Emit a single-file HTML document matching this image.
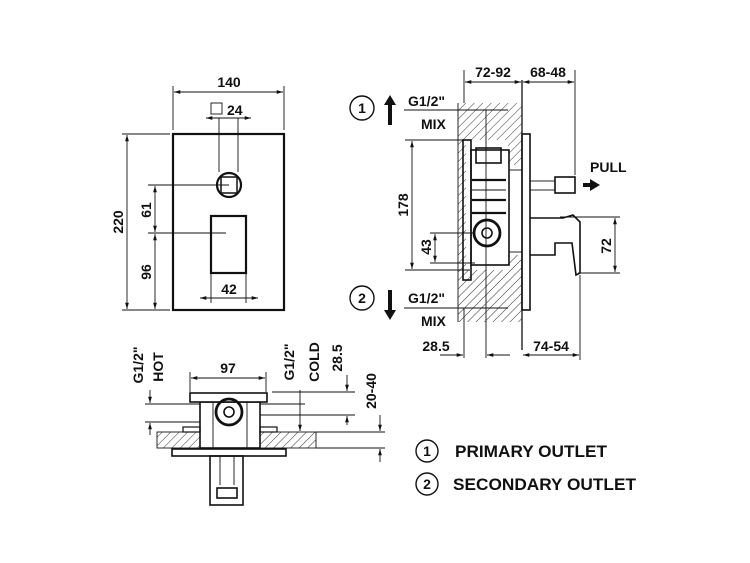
<!DOCTYPE html>
<html><head><meta charset="utf-8"><style>
html,body{margin:0;padding:0;background:#fff;}
svg{display:block;}
text{font-family:"Liberation Sans",Arial,sans-serif;font-weight:bold;fill:#111;}
</style></head><body>
<svg width="750" height="563" viewBox="0 0 750 563" xmlns="http://www.w3.org/2000/svg">
<defs>
<pattern id="h" patternUnits="userSpaceOnUse" width="6" height="6" patternTransform="rotate(45)">
<rect width="6" height="6" fill="#fff"/><line x1="0" y1="0" x2="0" y2="6" stroke="#333" stroke-width="1"/>
</pattern>
<marker id="a" viewBox="0 0 10 10" refX="10" refY="5" markerWidth="7" markerHeight="7" orient="auto-start-reverse">
<path d="M0,2 L10,5 L0,8 z" fill="#111"/></marker>
</defs>
<g stroke="#111" fill="none" stroke-width="0.9">
<!-- FRONT VIEW -->
<rect x="173" y="134" width="111" height="176" stroke-width="2.2"/>
<line x1="173" y1="86" x2="173" y2="130"/><line x1="284" y1="86" x2="284" y2="130"/>
<line x1="174" y1="92" x2="283" y2="92" marker-start="url(#a)" marker-end="url(#a)"/>
<rect x="211" y="103" width="11" height="11"/>
<line x1="206" y1="118" x2="251" y2="118" marker-start="url(#a)" marker-end="url(#a)"/>
<line x1="219" y1="118" x2="219" y2="172"/><line x1="238" y1="118" x2="238" y2="172"/>
<circle cx="229" cy="185" r="12" stroke-width="2.2"/>
<rect x="221" y="177" width="16" height="16" stroke-width="1.5"/>
<rect x="211" y="216" width="35" height="57" stroke-width="2.2"/>
<line x1="200" y1="298" x2="258" y2="298" marker-start="url(#a)" marker-end="url(#a)"/>
<line x1="211" y1="273" x2="211" y2="303"/><line x1="246" y1="273" x2="246" y2="303"/>
<line x1="122" y1="134" x2="170" y2="134"/><line x1="122" y1="310" x2="170" y2="310"/>
<line x1="127" y1="135" x2="127" y2="309" marker-start="url(#a)" marker-end="url(#a)"/>
<line x1="148" y1="185" x2="229" y2="185"/><line x1="148" y1="233" x2="226" y2="233"/>
<line x1="155" y1="186" x2="155" y2="232" marker-start="url(#a)" marker-end="url(#a)"/>
<line x1="155" y1="234" x2="155" y2="309" marker-start="url(#a)" marker-end="url(#a)"/>

<!-- SIDE VIEW -->
<rect x="458" y="103" width="64" height="219" fill="url(#h)" stroke="none"/>
<rect x="466" y="140" width="42" height="130" fill="#fff" stroke="none"/>
<rect x="508" y="165" width="14" height="90" fill="#fff" stroke="none"/>
<line x1="458" y1="103" x2="458" y2="322"/>
<line x1="522" y1="80" x2="522" y2="350" stroke-width="1.3"/>
<rect x="463" y="140" width="8" height="140" stroke-width="1.6"/>
<rect x="471" y="150" width="38" height="115" stroke-width="1.6"/>
<rect x="476" y="148" width="25" height="15" stroke-width="1.6"/>
<line x1="472" y1="180" x2="506" y2="180" stroke-width="2.2"/>
<line x1="472" y1="190" x2="506" y2="190" stroke-width="1"/>
<line x1="472" y1="200" x2="506" y2="200" stroke-width="2.2"/>
<line x1="472" y1="213" x2="506" y2="213" stroke-width="2.2"/>
<line x1="509" y1="170" x2="522" y2="170"/><line x1="509" y1="252" x2="522" y2="252"/>
<line x1="509" y1="170" x2="509" y2="252"/>
<circle cx="487" cy="233" r="13" stroke-width="2.8"/>
<circle cx="487" cy="233" r="5" stroke-width="1.6"/>
<rect x="522" y="134" width="8" height="176" stroke-width="1.6"/>
<rect x="530" y="181" width="25" height="9"/>
<rect x="555" y="177" width="20" height="16" stroke-width="1.6"/>
<path d="M530 218 L563 218 L573 215 L580 222 L580 273 L576 275 L572 243 L555 243 L555 255 L530 255" stroke-width="1.6"/>
<line x1="560" y1="217" x2="620" y2="217"/><line x1="578" y1="273" x2="620" y2="273"/>
<line x1="615" y1="218" x2="615" y2="272" marker-start="url(#a)" marker-end="url(#a)"/>
<line x1="464" y1="70" x2="464" y2="103"/><line x1="575" y1="70" x2="575" y2="175"/>
<line x1="465" y1="82" x2="521" y2="82" marker-start="url(#a)" marker-end="url(#a)"/>
<line x1="523" y1="82" x2="574" y2="82" marker-start="url(#a)" marker-end="url(#a)"/>
<line x1="404" y1="110" x2="508" y2="110"/><line x1="404" y1="308" x2="508" y2="308"/>
<line x1="486" y1="110" x2="486" y2="358"/><line x1="464" y1="308" x2="464" y2="358"/>
<line x1="440" y1="355" x2="463" y2="355" marker-end="url(#a)"/>
<line x1="510" y1="355" x2="487" y2="355" marker-end="url(#a)"/>
<line x1="580" y1="275" x2="580" y2="360"/>
<line x1="523" y1="355" x2="579" y2="355" marker-start="url(#a)" marker-end="url(#a)"/>
<line x1="405" y1="140" x2="470" y2="140"/><line x1="405" y1="270" x2="470" y2="270"/>
<line x1="412" y1="141" x2="412" y2="269" marker-start="url(#a)" marker-end="url(#a)"/>
<line x1="430" y1="233" x2="475" y2="233"/><line x1="430" y1="263" x2="475" y2="263"/>
<line x1="435" y1="234" x2="435" y2="262" marker-start="url(#a)" marker-end="url(#a)"/>
<circle cx="362" cy="108" r="12" stroke-width="1.4"/>
<circle cx="362" cy="298" r="12" stroke-width="1.4"/>

<!-- BOTTOM VIEW -->
<rect x="157" y="432" width="159" height="16" fill="url(#h)"/>
<rect x="200" y="402" width="60" height="46" fill="#fff" stroke-width="1.6"/>
<line x1="213" y1="402" x2="213" y2="448"/><line x1="247" y1="402" x2="247" y2="448"/>
<rect x="190" y="393" width="77" height="9" fill="#fff" stroke-width="1.6"/>
<rect x="183" y="427" width="17" height="5" stroke-width="1.2"/><rect x="260" y="427" width="17" height="5" stroke-width="1.2"/>
<circle cx="229" cy="412" r="13" stroke-width="2.8"/><circle cx="229" cy="412" r="5" stroke-width="1.6"/>
<rect x="172" y="449" width="114" height="7" stroke-width="1.6"/>
<rect x="210" y="456" width="33" height="49" stroke-width="1.6"/>
<line x1="220" y1="456" x2="220" y2="485"/><line x1="234" y1="456" x2="234" y2="485"/>
<rect x="217" y="488" width="20" height="10" stroke-width="1.6"/>
<line x1="190" y1="372" x2="190" y2="392"/><line x1="266" y1="372" x2="266" y2="392"/>
<line x1="191" y1="378" x2="265" y2="378" marker-start="url(#a)" marker-end="url(#a)"/>
<line x1="145" y1="404" x2="200" y2="404"/><line x1="145" y1="422" x2="200" y2="422"/>
<line x1="150" y1="390" x2="150" y2="403" marker-end="url(#a)"/>
<line x1="150" y1="435" x2="150" y2="423" marker-end="url(#a)"/>
<line x1="260" y1="404" x2="305" y2="404"/><line x1="260" y1="415" x2="355" y2="415"/>
<line x1="300" y1="390" x2="300" y2="431" marker-end="url(#a)"/>
<line x1="272" y1="392" x2="355" y2="392"/>
<line x1="347" y1="375" x2="347" y2="391" marker-end="url(#a)"/>
<line x1="347" y1="425" x2="347" y2="416" marker-end="url(#a)"/>
<line x1="316" y1="432" x2="385" y2="432"/><line x1="316" y1="448" x2="385" y2="448"/>
<line x1="380" y1="415" x2="380" y2="431" marker-end="url(#a)"/>
<line x1="380" y1="462" x2="380" y2="449" marker-end="url(#a)"/>

<!-- legend -->
<circle cx="427" cy="451" r="11" stroke-width="1.4"/>
<circle cx="427" cy="484" r="11" stroke-width="1.4"/>
</g>
<path d="M390 95 L396 105 L392 105 L392 125 L388 125 L388 105 L384 105 z" fill="#111"/>
<path d="M390 320 L396 310 L392 310 L392 290 L388 290 L388 310 L384 310 z" fill="#111"/>
<path d="M600 185 L590 179 L590 183 L583 183 L583 187 L590 187 L590 191 z" fill="#111"/>

<g font-size="14">
<text x="229" y="87" text-anchor="middle">140</text>
<text x="227" y="115">24</text>
<text x="229" y="294" text-anchor="middle">42</text>
<text transform="translate(123,222) rotate(-90)" text-anchor="middle">220</text>
<text transform="translate(151,210) rotate(-90)" text-anchor="middle">61</text>
<text transform="translate(151,272) rotate(-90)" text-anchor="middle">96</text>
<text x="493" y="77" text-anchor="middle">72-92</text>
<text x="548" y="77" text-anchor="middle">68-48</text>
<text x="408" y="106">G1/2"</text>
<text x="421" y="129">MIX</text>
<text x="408" y="303">G1/2"</text>
<text x="421" y="326">MIX</text>
<text x="590" y="172">PULL</text>
<text transform="translate(408,205) rotate(-90)" text-anchor="middle">178</text>
<text transform="translate(431,247) rotate(-90)" text-anchor="middle">43</text>
<text transform="translate(611,246) rotate(-90)" text-anchor="middle">72</text>
<text x="436" y="351" text-anchor="middle">28.5</text>
<text x="551" y="351" text-anchor="middle">74-54</text>
<text x="362" y="113" text-anchor="middle">1</text>
<text x="362" y="303" text-anchor="middle">2</text>
<text x="228" y="373" text-anchor="middle">97</text>
<text transform="translate(143,365) rotate(-90)" text-anchor="middle">G1/2"</text>
<text transform="translate(163,367) rotate(-90)" text-anchor="middle">HOT</text>
<text transform="translate(294,362) rotate(-90)" text-anchor="middle">G1/2"</text>
<text transform="translate(319,362) rotate(-90)" text-anchor="middle">COLD</text>
<text transform="translate(342,358) rotate(-90)" text-anchor="middle">28.5</text>
<text transform="translate(376,391) rotate(-90)" text-anchor="middle">20-40</text>
<text x="427" y="456" text-anchor="middle">1</text>
<text x="427" y="489" text-anchor="middle">2</text>
</g>
<g font-size="16.5">
<text x="455" y="457" textLength="152" lengthAdjust="spacingAndGlyphs">PRIMARY OUTLET</text>
<text x="453" y="490" textLength="183" lengthAdjust="spacingAndGlyphs">SECONDARY OUTLET</text>
</g>
</svg>
</body></html>
